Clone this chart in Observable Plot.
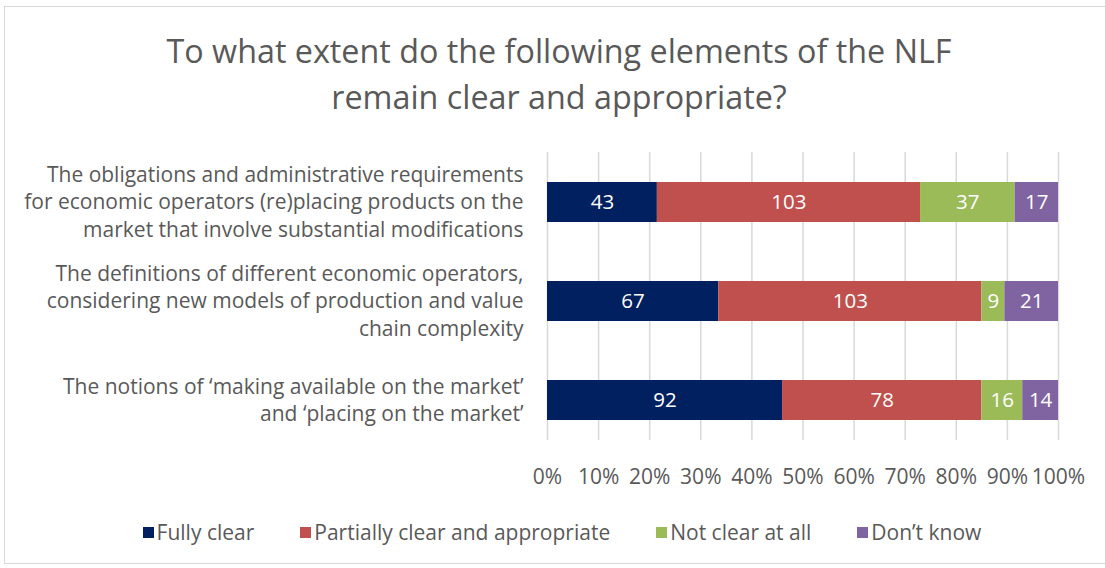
<!DOCTYPE html>
<html>
<head>
<meta charset="utf-8">
<script src="https://cdn.jsdelivr.net/npm/d3@7"></script>
<script src="https://cdn.jsdelivr.net/npm/@observablehq/plot@0.6"></script>
<style>
  body { margin: 0; background: #fff; font-family: "Open Sans", Lato, sans-serif; }
  #frame { position: absolute; left: 4px; top: 6px; width: 1110px; height: 558px; border: 1px solid #d9d9d9; box-sizing: border-box; }
  #title { position: absolute; left: 0; top: 27px; width: 1118px; text-align: center; font-size: 32.3px; line-height: 46px; color: #595959; }
  #chart { position: absolute; left: 0; top: 130px; }
  #legend { position: absolute; left: 0; top: 518px; width: 1124px; display: flex; justify-content: center; gap: 46px; font-size: 21px; color: #595959; }
  #legend .item { display: flex; align-items: center; }
  #legend .sw { width: 11px; height: 11px; margin-right: 3px; }
</style>
</head>
<body>
<div id="frame"></div>
<div id="title">To what extent do the following elements of the NLF<br>remain clear and appropriate?</div>
<div id="chart"></div>
<div id="legend"></div>
<script>
const categories = [
  "The obligations and administrative requirements\nfor economic operators (re)placing products on the\nmarket that involve substantial modifications",
  "The definitions of different economic operators,\nconsidering new models of production and value\nchain complexity",
  "The notions of \u2018making available on the market\u2019\nand \u2018placing on the market\u2019"
];
const series = ["Fully clear", "Partially clear and appropriate", "Not clear at all", "Don\u2019t know"];
const colors = ["#002060", "#C0504D", "#9BBB59", "#8064A2"];
const fullyClear = [43, 67, 92];
const partiallyClear = [103, 103, 78];
const notClear = [37, 9, 16];
const dontKnow = [17, 21, 14];
const xTicks = [0, 0.1, 0.2, 0.3, 0.4, 0.5, 0.6, 0.7, 0.8, 0.9, 1];

const valuesBySeries = [fullyClear, partiallyClear, notClear, dontKnow];
const data = [];
categories.forEach((c, i) => {
  series.forEach((s, j) => data.push({category: c, series: s, value: valuesBySeries[j][i]}));
});

const chart = Plot.plot({
  width: 1105,
  height: 370,
  marginLeft: 547,
  marginRight: 47,
  marginTop: 22,
  marginBottom: 60,
  style: {fontFamily: "'Open Sans', Lato, sans-serif", color: "#595959", background: "transparent"},
  x: {domain: [0, 1], ticks: xTicks, tickFormat: d3.format(".0%"), label: null},
  y: {domain: categories, paddingInner: 0.6, paddingOuter: 0.25, align: 0.6, label: null},
  color: {domain: series, range: colors},
  marks: [
    Plot.gridX(xTicks, {stroke: "#d9d9d9", strokeOpacity: 1, strokeWidth: 1.5}),
    Plot.barX(data, Plot.stackX({offset: "normalize", order: series, x: "value", y: "category", fill: "series"})),
    Plot.text(data, Plot.stackX({offset: "normalize", order: series, x: "value", y: "category", z: "series", text: d => String(d.value), fill: "white", fontSize: 20.5})),
    Plot.axisX(xTicks, {tickSize: 0, tickPadding: 29, fontSize: 21, fill: "#595959", tickFormat: d3.format(".0%"), label: null}),
    Plot.axisY({tickSize: 0, tickPadding: 24, fontSize: 21, lineHeight: 1.31, dy: -2, fill: "#595959", label: null})
  ]
});
document.getElementById("chart").appendChild(chart);

const legend = document.getElementById("legend");
series.forEach((s, j) => {
  const item = document.createElement("div");
  item.className = "item";
  const sw = document.createElement("span");
  sw.className = "sw";
  sw.style.background = colors[j];
  const t = document.createElement("span");
  t.textContent = s;
  item.appendChild(sw);
  item.appendChild(t);
  legend.appendChild(item);
});
</script>
</body>
</html>
